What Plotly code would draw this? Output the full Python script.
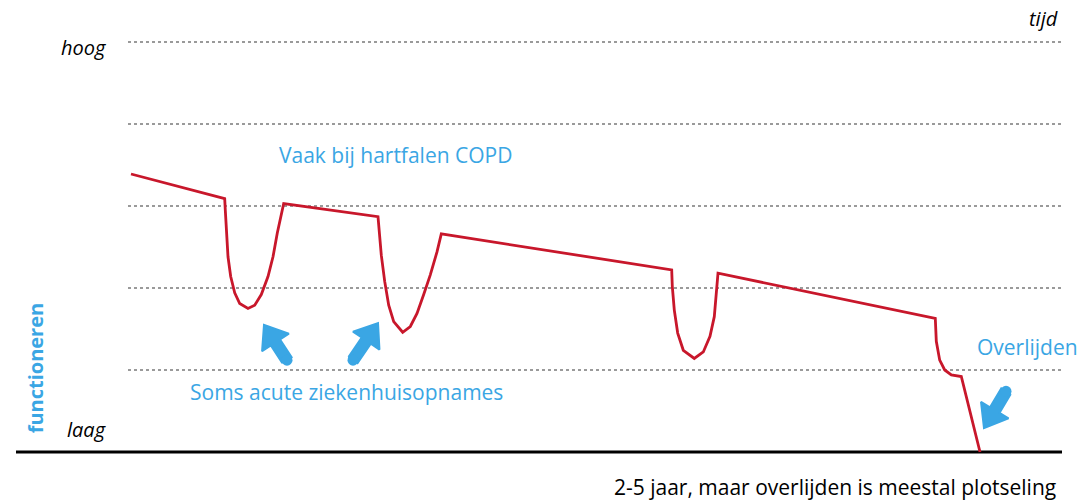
import plotly.graph_objects as go

# time axis (arbitrary units) and functioning level (0 = laag, 5 = hoog)
tijd = [131, 224.7, 225.3, 226.3, 228, 230.7, 234.7, 239.7, 248, 254.7, 261.3, 268, 273, 277.3, 281.3, 283.7,
        378, 379.3, 381.3, 384.7, 388.7, 393.7, 402.7, 410.3, 417, 423.7, 430.3, 437, 441.3,
        671.7, 672.3, 674.3, 677.7, 683.3, 694.3, 703.3, 710, 714.3, 716.7, 718,
        935.3, 936.3, 939.7, 944.7, 951.3, 961.3, 980]
functioneren = [3.39, 3.09, 2.95, 2.71, 2.38, 2.14, 1.94, 1.81, 1.75, 1.79, 1.92, 2.14, 2.38, 2.67, 2.91, 3.03,
                2.87, 2.69, 2.40, 2.08, 1.79, 1.59, 1.46, 1.53, 1.69, 1.92, 2.16, 2.44, 2.66,
                2.22, 2.02, 1.73, 1.45, 1.24, 1.14, 1.22, 1.41, 1.65, 1.94, 2.18,
                1.63, 1.35, 1.12, 1.00, 0.94, 0.92, 0.0]

grid_levels = [1, 2, 3, 4, 5]
grid_start, grid_end = 128, 1062

# arrows: tail (x, y) -> tip (x, y)
pijl_staart = [(287, 1.12), (353, 1.12), (1006, 0.74)]
pijl_punt = [(264, 1.55), (378, 1.57), (984, 0.29)]

RED = "#c8172b"
BLUE = "#3aa6e4"
FONT = "Open Sans"
PX_PER_LEVEL = 82  # vertical pixels per level, used to keep arrow shapes undistorted


def arrow_outline(tail, tip, shaft=5.5, head_w=16, head_l=21):
    # build outline in pixel-like space, then map back to data units
    tx, ty = tail[0], tail[1] * PX_PER_LEVEL
    hx, hy = tip[0], tip[1] * PX_PER_LEVEL
    dx, dy = hx - tx, hy - ty
    n = (dx ** 2 + dy ** 2) ** 0.5
    ux, uy = dx / n, dy / n
    vx, vy = -uy, ux
    nx, ny = hx - ux * head_l, hy - uy * head_l
    pts = [(tx + vx * shaft, ty + vy * shaft), (nx + vx * shaft, ny + vy * shaft),
           (nx + vx * head_w, ny + vy * head_w), (hx, hy),
           (nx - vx * head_w, ny - vy * head_w), (nx - vx * shaft, ny - vy * shaft),
           (tx - vx * shaft, ty - vy * shaft)]
    xs = [p[0] for p in pts] + [pts[0][0]]
    ys = [p[1] / PX_PER_LEVEL for p in pts] + [pts[0][1] / PX_PER_LEVEL]
    return xs, ys


fig = go.Figure()

for lv in grid_levels:
    fig.add_trace(go.Scatter(x=[grid_start, grid_end], y=[lv, lv], mode="lines",
                             line=dict(color="#9a9a9a", width=2, dash="dot"),
                             hoverinfo="skip", showlegend=False))

# baseline
fig.add_trace(go.Scatter(x=[16, grid_end], y=[0, 0], mode="lines",
                         line=dict(color="black", width=3), showlegend=False))

fig.add_trace(go.Scatter(x=tijd, y=functioneren, mode="lines",
                         line=dict(color=RED, width=2.8), showlegend=False))

for tail, tip in zip(pijl_staart, pijl_punt):
    xs, ys = arrow_outline(tail, tip)
    fig.add_trace(go.Scatter(x=xs, y=ys, mode="lines", fill="toself", fillcolor=BLUE,
                             line=dict(color=BLUE, width=2), hoverinfo="skip",
                             showlegend=False))
    fig.add_trace(go.Scatter(x=[tail[0]], y=[tail[1]], mode="markers",
                             marker=dict(size=11, color=BLUE), hoverinfo="skip",
                             showlegend=False))


def label(txt, x, y, anchor, color="black", size=17, italic=False, angle=0, bold=False):
    fig.add_annotation(x=x, y=y, xref="x", yref="y", text=txt, showarrow=False,
                       xanchor=anchor, yanchor="middle", textangle=angle,
                       font=dict(family=FONT, size=size, color=color,
                                 style="italic" if italic else "normal",
                                 weight="bold" if bold else "normal"))


label("hoog", 108, 4.93, "right", italic=True, size=20)
label("laag", 108, 0.27, "right", italic=True, size=20)
label("tijd", 1060, 5.29, "right", italic=True, size=20)
label("Vaak bij hartfalen COPD", 277, 3.62, "left", color=BLUE, size=21)
label("Soms acute ziekenhuisopnames", 188, 0.73, "left", color=BLUE, size=21)
label("Overlijden", 1080, 1.28, "right", color=BLUE, size=21)
label("functioneren", 35, 1.02, "center", color=BLUE, size=20, angle=-90, bold=True)
label("2-5 jaar, maar overlijden is meestal plotseling", 1058, -0.43, "right", size=21)

fig.update_layout(width=1084, height=501, margin=dict(l=0, r=0, t=0, b=0),
                  plot_bgcolor="white", paper_bgcolor="white",
                  xaxis=dict(range=[0, 1084], visible=False),
                  yaxis=dict(range=[-0.598, 5.512], visible=False))

fig.write_html("out.html", config={"displayModeBar": False},
               post_script="document.body.style.margin='0';")
